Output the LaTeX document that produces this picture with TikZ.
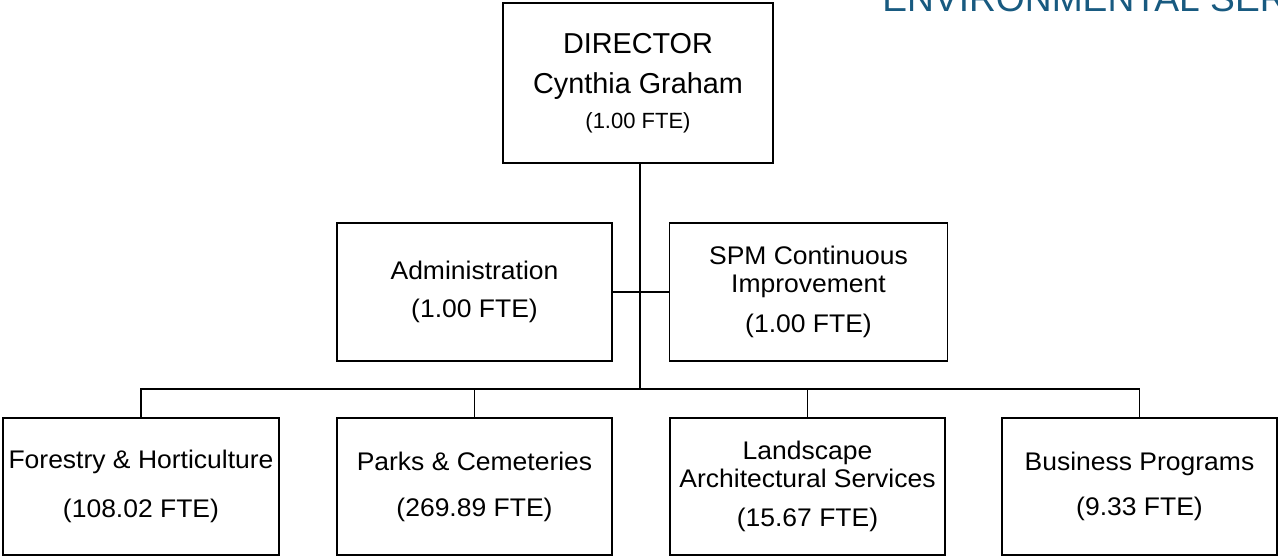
\documentclass[tikz,border=0pt]{standalone}
\usepackage{fontspec}
\setmainfont{Liberation Sans}
\newfontfamily\wideboxfont[FakeStretch=1.04]{Liberation Sans}
\definecolor{titleblue}{RGB}{24,90,128}
\begin{document}
\begin{tikzpicture}[x=0.75pt,y=-0.75pt,
  orgbox/.style={draw=black,line width=1.1pt,fill=white,inner sep=0pt,outer sep=0pt,
    align=center,minimum width=206.5pt,minimum height=102.75pt,
    font=\wideboxfont\fontsize{19.1pt}{21pt}\selectfont},
  dirbox/.style={orgbox,minimum width=202.5pt,minimum height=120pt,
    font=\fontsize{21.6pt}{30pt}\selectfont},
  thinline/.style={draw=black,line width=1pt},
  thickline/.style={draw=black,line width=1.5pt}]
\useasboundingbox (0,0) rectangle (1278,557);
\clip (0,0) rectangle (1278,557);
\fill[white] (0,0) rectangle (1278,557);
% title (cut off at the page edge, as in the reference)
\node[anchor=base west,inner sep=0pt,text=titleblue,font=\fontsize{27.9pt}{33pt}\selectfont] (title) at (882,11.5) {ENVIRONMENTAL SERVICES};
% boxes
\node[dirbox] (dir) at (638,83) {DIRECTOR\\Cynthia Graham\\[-3.75pt]{\fontsize{16.5pt}{20pt}\selectfont (1.00 FTE)}};
\node[orgbox,minimum height=103.5pt] (adm) at (474.5,292) {Administration\\[7.5pt](1.00 FTE)};
\node[orgbox,minimum width=208.5pt,minimum height=103.5pt] (spm) at (808.5,292) {SPM Continuous\\Improvement\\[9pt](1.00 FTE)};
\node[orgbox,minimum width=207pt] (fh) at (141,486.5) {Forestry \& Horticulture\\[15.75pt](108.02 FTE)};
\node[orgbox] (pc) at (474.5,486.5) {Parks \& Cemeteries\\[13.5pt](269.89 FTE)};
\node[orgbox] (las) at (807.5,486.5) {Landscape\\Architectural Services\\[8.25pt](15.67 FTE)};
\node[orgbox] (bp) at (1139.5,486.5) {Business Programs\\[12.75pt](9.33 FTE)};
% connectors
\coordinate (trunk) at (640,389);
\draw[thickline] (dir.south -| trunk) -- (trunk);
\draw[thinline] (adm.east) -- (spm.west);
\draw[thinline] (fh.north) |- (pc.north |- trunk) -- (pc.north);
\draw[thickline] (pc.north |- trunk) -- (las.north |- trunk);
\draw[thinline] (las.north) |- (bp.north |- trunk) -- (bp.north);
\end{tikzpicture}
\end{document}
